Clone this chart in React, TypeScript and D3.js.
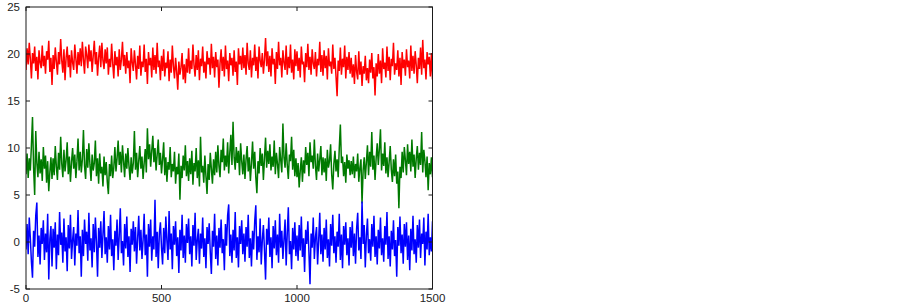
import React from "react";
import * as d3 from "d3";

const xTicks = [0, 500, 1000, 1500];
const yTicks = [-5, 0, 5, 10, 15, 20, 25];
const sampleStep = 4;

const redSeries = [
  18.3, 20.6, 18.9, 21.2, 19.5, 17.4, 20.1, 19.0, 20.8, 18.2, 19.7, 17.3, 20.4, 19.1, 18.5, 20.9, 18.7, 19.8, 17.9, 20.3, 19.4, 21.4, 18.1, 19.6, 16.7,
  19.9, 18.4, 20.7, 19.2, 17.8, 20.2, 18.9, 21.6, 19.3, 18.0, 20.5, 17.2, 19.6, 20.8, 18.6, 19.9, 17.5, 20.4, 19.1, 18.3, 21.0, 19.5, 17.9, 20.2, 18.8,
  20.6, 18.7, 21.3, 19.4, 17.9, 20.8, 19.9, 18.5, 21.0, 19.2, 20.4, 18.1, 19.8, 21.4, 18.9, 20.2, 17.7, 19.6, 20.9, 18.6, 21.2, 19.3, 18.4, 20.5, 19.0,
  20.7, 17.8, 19.5, 18.6, 21.1, 19.0, 17.4, 20.3, 18.8, 19.7, 17.6, 20.5, 18.3, 19.4, 21.3, 18.7, 19.9, 17.9, 20.2, 18.5, 19.3, 16.9, 20.6, 19.1, 18.2,
  20.4, 18.9, 17.3, 19.8, 18.4, 20.9, 17.7, 19.2, 18.6, 21.0, 18.1, 19.5, 16.8, 20.2, 18.8, 19.6, 17.5, 20.7, 18.3, 19.9, 17.9, 21.2, 18.6, 19.3, 17.2,
  19.8, 18.2, 20.5, 17.6, 19.1, 18.5, 20.3, 17.1, 19.4, 18.0, 20.9, 18.7, 17.4, 19.6, 18.1, 16.2, 19.2, 17.8, 18.6, 20.1, 17.3, 18.9, 16.9, 19.5, 18.0,
  20.6, 17.9, 19.3, 18.4, 21.0, 18.8, 17.6, 19.9, 18.3, 20.4, 17.2, 19.5, 18.7, 20.8, 18.0, 19.2, 17.4, 20.3, 18.9, 19.6, 17.8, 21.1, 18.5, 19.7, 17.5,
  20.2, 18.6, 19.4, 16.4, 19.0, 20.5, 18.2, 19.7, 17.6, 20.9, 18.4, 19.3, 17.1, 20.1, 18.8, 19.6, 17.7, 20.4, 18.1, 19.2, 16.7, 20.6, 18.9, 19.8, 18.3,
  20.7, 18.5, 19.9, 17.8, 21.2, 19.0, 18.3, 20.4, 17.5, 19.6, 18.8, 21.0, 18.2, 19.7, 17.4, 20.8, 19.3, 18.6, 20.1, 17.9, 19.4, 21.7, 18.7, 20.3, 18.1,
  19.8, 17.6, 20.6, 18.9, 19.5, 16.8, 20.2, 18.4, 21.3, 18.8, 19.6, 17.5, 20.4, 19.1, 18.3, 20.9, 17.8, 19.7, 18.5, 21.0, 18.0, 19.4, 17.3, 20.5, 18.7,
  20.3, 18.2, 19.6, 17.5, 20.8, 18.9, 19.2, 17.0, 20.1, 18.6, 21.1, 18.3, 19.7, 17.8, 20.5, 19.0, 18.4, 20.2, 17.6, 19.5, 18.8, 21.3, 18.1, 19.9, 17.7,
  20.4, 18.5, 19.8, 17.3, 20.6, 18.7, 19.2, 17.9, 21.0, 18.4, 19.6, 17.6, 15.5, 19.3, 18.2, 20.7, 17.8, 19.5, 18.6, 20.9, 17.4, 19.7, 18.3, 20.2, 17.9,
  19.6, 17.5, 18.9, 16.8, 19.9, 18.1, 17.3, 20.3, 17.8, 19.2, 16.6, 18.7, 17.9, 19.8, 17.2, 18.5, 16.9, 19.4, 18.0, 20.1, 17.4, 18.6, 15.6, 19.0, 17.6,
  20.0, 17.9, 19.3, 16.9, 20.6, 18.4, 19.1, 17.5, 20.8, 18.2, 19.7, 17.2, 19.5, 18.7, 21.2, 17.8, 19.0, 18.3, 20.4, 17.6, 19.6, 16.7, 20.2, 18.5, 19.4,
  17.7, 20.5, 18.6, 19.3, 17.4, 20.9, 18.2, 19.8, 17.9, 20.3, 18.8, 16.9, 19.6, 18.4, 20.7, 17.8, 21.5, 18.5, 19.4, 17.3, 20.2, 18.9, 19.7, 17.6, 20.1,
  17.3,
];

const greenSeries = [
  7.2, 9.4, 6.8, 8.9, 7.6, 10.3, 13.3, 7.9, 5.0, 11.8, 8.4, 6.9, 9.6, 7.3, 8.8, 6.5, 10.1, 7.8, 9.2, 6.3, 8.6, 5.4, 7.4, 9.0, 6.7,
  8.9, 7.1, 10.2, 8.0, 6.6, 9.5, 7.7, 11.2, 8.3, 6.9, 9.8, 7.5, 8.7, 10.6, 7.2, 9.1, 6.4, 8.5, 10.0, 7.8, 9.3, 6.8, 8.6, 11.0, 7.6,
  9.6, 7.4, 8.8, 11.9, 8.1, 6.7, 9.9, 7.9, 10.5, 8.2, 6.5, 9.3, 7.6, 8.4, 10.8, 7.0, 8.9, 6.2, 9.4, 7.3, 8.0, 5.9, 9.1, 7.1, 8.5,
  6.4, 5.1, 8.3, 7.0, 9.2, 6.8, 7.9, 10.1, 7.5, 8.9, 10.8, 8.2, 9.6, 7.4, 10.3, 8.6, 6.9, 9.4, 7.8, 10.0, 8.1, 6.6, 9.0, 7.3, 8.4,
  11.8, 7.7, 9.5, 6.9, 8.6, 10.2, 7.8, 9.1, 6.7, 8.4, 9.9, 7.4, 12.1, 8.8, 10.4, 8.0, 9.7, 11.3, 8.5, 10.0, 7.6, 9.3, 10.9, 8.2, 9.5,
  7.3, 8.8, 10.6, 7.1, 9.0, 6.4, 8.5, 7.7, 10.1, 6.9, 8.3, 7.5, 9.6, 6.2, 8.0, 7.2, 9.4, 4.5, 8.1, 6.8, 9.2, 7.6, 10.3, 7.0, 8.6,
  6.5, 8.9, 7.2, 9.7, 6.1, 8.4, 7.5, 10.0, 6.8, 8.7, 5.9, 11.2, 7.4, 8.1, 6.3, 9.2, 7.0, 5.1, 8.3, 6.6, 9.5, 7.8, 6.2, 8.8, 7.1,
  9.6, 7.4, 10.3, 8.1, 6.9, 9.8, 8.5, 11.0, 7.6, 9.2, 8.0, 10.6, 7.3, 9.5, 11.4, 8.2, 12.8, 9.0, 7.7, 10.1, 8.4, 9.7, 7.1, 10.5, 8.6,
  7.2, 9.3, 6.7, 8.8, 10.2, 7.5, 9.0, 6.5, 8.4, 10.7, 7.8, 9.6, 6.9, 5.2, 8.6, 7.3, 10.0, 8.1, 9.4, 6.6, 8.9, 11.1, 7.9, 9.7, 8.3,
  10.4, 7.6, 9.1, 8.0, 10.8, 7.2, 9.5, 8.3, 6.8, 10.1, 8.7, 7.4, 12.6, 9.0, 7.9, 10.5, 8.2, 6.7, 9.3, 8.6, 11.2, 7.7, 9.8, 7.0, 8.9,
  6.9, 8.4, 5.8, 7.6, 9.0, 6.4, 8.7, 7.3, 10.1, 8.2, 9.5, 7.0, 10.6, 8.5, 9.2, 7.8, 10.9, 8.1, 6.6, 9.4, 7.5, 8.8, 10.2, 7.1, 9.0,
  7.4, 8.9, 6.5, 9.8, 7.9, 8.6, 10.4, 7.2, 5.6, 8.3, 9.7, 7.5, 8.8, 6.9, 10.0, 12.5, 8.4, 9.1, 7.0, 8.5, 6.3, 9.3, 7.8, 8.7, 7.1,
  8.6, 7.2, 9.1, 6.8, 8.3, 7.5, 9.4, 6.4, 7.9, 8.8, 4.1, 7.6, 9.0, 6.7, 8.5, 10.3, 7.1, 9.6, 8.0, 11.7, 7.7, 9.2, 6.6, 8.9, 10.5,
  8.2, 9.9, 12.0, 7.6, 9.4, 8.1, 10.6, 7.3, 9.0, 6.9, 8.5, 10.2, 7.7, 6.4, 8.8, 7.0, 9.3, 6.2, 7.5, 3.6, 8.0, 6.8, 9.6, 7.4, 10.1,
  8.7, 7.1, 10.4, 8.3, 9.6, 7.5, 10.9, 8.0, 9.3, 6.8, 8.9, 10.2, 7.7, 9.5, 8.2, 11.7, 7.4, 9.8, 8.6, 6.9, 9.1, 5.5, 8.4, 7.2, 9.0,
  6.9,
];

const blueSeries = [
  -0.8, 1.9, -1.3, 2.6, 0.4, -2.1, -3.8, 1.2, -0.5, 2.8, 4.2, -1.6, 0.7, -2.4, 1.5, -0.2, 2.3, -1.9, 0.9, -1.1, 3.0, -4.0, 0.3, 1.7, -2.6,
  1.4, -0.6, 2.1, -2.9, 0.8, -1.4, 3.2, -0.3, 1.0, -2.2, 2.5, -1.0, 0.5, -3.1, 1.8, -0.7, 2.9, -1.8, 0.2, 1.6, -2.5, 0.9, -0.4, 3.4, -1.2,
  0.6, -3.7, 1.3, -1.5, 2.4, -0.2, 1.1, -2.0, 3.1, -0.9, 0.4, -2.7, 1.9, -1.1, 2.6, 0.0, -3.7, 1.5, -0.6, 2.2, -1.7, 0.8, 3.3, -1.3, 0.5,
  -2.2, 1.7, -0.8, 2.9, -1.5, 0.3, -3.0, 1.2, -0.4, 2.4, -1.9, 0.7, 3.6, -1.2, 0.1, -2.5, 1.9, -0.7, 2.7, -1.6, 0.6, -3.2, 1.4, -0.3, 2.2,
  -1.0, 1.6, -2.3, 0.4, 2.8, -0.9, 1.3, -1.8, 0.2, 3.0, -1.4, 0.8, -3.7, 1.9, -0.5, 2.4, -2.0, 0.6, -0.8, 4.5, -1.6, 1.1, -2.8, 0.9, 2.1,
  -0.6, -2.4, 1.5, -1.2, 2.7, 0.1, -1.9, 3.3, -0.8, 0.9, -2.9, 1.7, -0.3, 2.2, -1.5, 0.5, -3.3, 1.3, -0.9, 2.9, -1.7, 0.7, -2.2, 1.9, -0.1,
  2.5, -1.3, 0.6, -2.6, 1.8, -0.4, 3.1, -1.9, 0.2, 1.4, -2.3, 0.9, -0.7, 2.6, -1.6, 0.4, -2.8, 1.6, -0.2, 2.0, -1.1, -3.4, 1.2, -0.5, 3.0,
  -1.8, 0.7, -2.5, 1.5, -0.6, 2.4, -1.2, 0.3, -3.0, 1.9, -0.4, 2.8, 4.0, -1.5, 0.8, -2.2, 1.3, -0.9, 3.2, -1.7, 0.5, -2.7, 1.7, -0.2, 2.3,
  -1.3, 0.9, -2.1, 1.6, -0.5, 2.9, -1.7, 0.4, -2.6, 1.2, -0.8, 2.2, 3.9, -1.9, 0.6, -1.1, 2.5, -2.4, 0.2, 1.8, -0.9, -4.0, 1.4, -0.3, 2.6,
  -1.6, 0.5, -2.8, 1.7, -0.7, 2.3, -1.4, 0.8, -2.2, 3.0, -0.6, 1.2, -1.8, 0.3, 2.4, -2.5, 0.9, 3.7, -1.3, 0.1, -2.9, 1.5, -0.8, 2.1, -1.5,
  0.7, -2.0, 1.8, -0.9, 2.7, -1.6, 0.4, -3.2, 1.3, -0.2, 2.2, -1.1, -4.5, 0.9, -0.6, 2.6, -1.8, 0.5, 1.6, -2.4, 0.2, 3.1, -1.3, 0.8, -2.1,
  1.5, -0.8, 2.4, -1.7, 0.3, -2.6, 1.9, -0.4, 2.9, -1.2, 0.6, -2.2, 1.1, -0.5, 3.0, -1.9, 0.8, -2.8, 1.7, -0.3, 2.1, -1.4, 0.4, -2.5, 1.6,
  -0.6, 2.2, -1.5, 0.9, -2.3, 1.4, 3.1, -0.9, 0.5, -1.8, 4.3, -0.2, 1.8, -2.7, 0.7, 2.5, -1.2, 0.3, -2.0, 1.9, -0.5, 2.8, -1.6, 0.6, -2.4,
  1.3, -0.7, 2.6, -1.4, 0.4, -2.1, 1.7, -0.3, 3.2, -1.8, 0.6, -2.6, 1.2, -0.8, 2.3, -1.5, 0.2, -3.7, 1.6, -0.4, 2.7, -1.2, 0.8, -2.3, 1.9,
  -0.5, 2.1, -1.9, 0.7, -3.0, 1.4, -0.9, 2.8, -1.3, 0.3, -2.2, 1.8, -0.6, 2.4, -1.7, 0.9, -0.2, 2.6, -2.5, 1.1, -0.8, 3.0, -1.4, 0.5, -1.0,
  2.2,
];

const seriesList = [
  { name: "red", values: redSeries, color: "#ff0000" },
  { name: "green", values: greenSeries, color: "#007a00" },
  { name: "blue", values: blueSeries, color: "#0000ff" },
];

export default function App() {
  const W = 903;
  const H = 304;
  const left = 26;
  const right = 432.5;
  const top = 7;
  const bottom = 289;

  const x = d3.scaleLinear().domain([0, 1500]).range([left, right]);
  const y = d3.scaleLinear().domain([-5, 25]).range([bottom, top]);

  const line = d3
    .line<number>()
    .x((_, i) => x(i * sampleStep))
    .y((d) => y(d));

  const tickLen = 4;
  const font = "Arial, 'Liberation Sans', sans-serif";

  return (
    <svg
      width={W}
      height={H}
      style={{ position: "absolute", left: 0, top: 0, background: "#fff" }}
    >
      <rect x={0} y={0} width={W} height={H} fill="#fff" />
      <defs>
        <clipPath id="plotclip">
          <rect x={left} y={top} width={right - left} height={bottom - top} />
        </clipPath>
      </defs>
      <g clipPath="url(#plotclip)">
        {seriesList.map((s) => (
          <path
            key={s.name}
            d={line(s.values) || ""}
            fill="none"
            stroke={s.color}
            strokeWidth={1.5}
            strokeLinejoin="bevel"
          />
        ))}
      </g>
      <rect
        x={left}
        y={top}
        width={right - left}
        height={bottom - top}
        fill="none"
        stroke="#1a1a1a"
        strokeWidth={1}
      />
      {xTicks.map((t) => (
        <g key={"x" + t}>
          <line x1={x(t)} x2={x(t)} y1={bottom} y2={bottom - tickLen} stroke="#1a1a1a" />
          <line x1={x(t)} x2={x(t)} y1={top} y2={top + tickLen} stroke="#1a1a1a" />
          <text
            x={x(t)}
            y={302}
            textAnchor="middle"
            fontFamily={font}
            fontSize={11.5}
            fill="#222"
          >
            {t}
          </text>
        </g>
      ))}
      {yTicks.map((t) => (
        <g key={"y" + t}>
          <line x1={left} x2={left + tickLen} y1={y(t)} y2={y(t)} stroke="#1a1a1a" />
          <line x1={right} x2={right - tickLen} y1={y(t)} y2={y(t)} stroke="#1a1a1a" />
          <text
            x={20}
            y={y(t) + 4}
            textAnchor="end"
            fontFamily={font}
            fontSize={11.5}
            fill="#222"
          >
            {t}
          </text>
        </g>
      ))}
    </svg>
  );
}
